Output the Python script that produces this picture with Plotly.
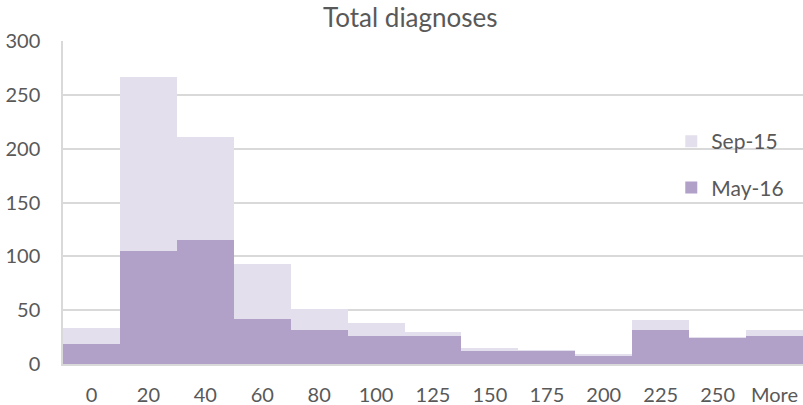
import plotly.graph_objects as go

categories = ["0", "20", "40", "60", "80", "100", "125", "150", "175", "200", "225", "250", "More"]
sep15 = [33, 267, 211, 93, 51, 38, 30, 15, 13, 9, 41, 25, 32]
may16 = [19, 105, 115, 42, 32, 26, 26, 12, 12, 7, 32, 24, 26]
y_ticks = [0, 50, 100, 150, 200, 250, 300]

font_family = "Lato, Liberation Sans, sans-serif"
gray = "#595959"

fig = go.Figure()
fig.add_trace(go.Bar(x=categories, y=sep15, name="Sep-15", marker_color="#E4DFEC",
                     marker_line_width=0, legendgroup="a"))
fig.add_trace(go.Bar(x=categories, y=may16, name="May-16", marker_color="#B1A0C7",
                     marker_line_width=0, legendgroup="b"))

fig.update_layout(
    width=803, height=405,
    margin=dict(l=63, r=0, t=41, b=41, autoexpand=False),
    paper_bgcolor="white", plot_bgcolor="white",
    barmode="overlay", bargap=0,
    title=dict(text="Total diagnoses", x=0.511, xanchor="center", y=0.957, yanchor="middle",
               font=dict(family=font_family, size=26, color=gray)),
    font=dict(family=font_family, size=20, color=gray),
    legend=dict(x=0.822, y=0.752, xanchor="left", yanchor="top", bgcolor="rgba(0,0,0,0)",
                traceorder="grouped", tracegroupgap=16, font=dict(size=21, color=gray),
                itemwidth=30),
    xaxis=dict(showgrid=False, showline=True, linecolor="#D9D9D9", linewidth=1.5,
               ticks="", automargin=False, ticklabelstandoff=12,
               tickfont=dict(size=20, color=gray)),
    yaxis=dict(range=[0, 300], tickvals=y_ticks, showgrid=True, gridcolor="#D9D9D9",
               gridwidth=1.5, showline=True, linecolor="#D9D9D9", linewidth=1.5,
               zeroline=False, ticks="", ticklabelstandoff=17, automargin=False,
               tickfont=dict(size=20, color=gray)),
)

fig.write_html("out.html", config={"displayModeBar": False},
               post_script="document.body.style.margin='0';document.body.style.overflow='hidden';")
